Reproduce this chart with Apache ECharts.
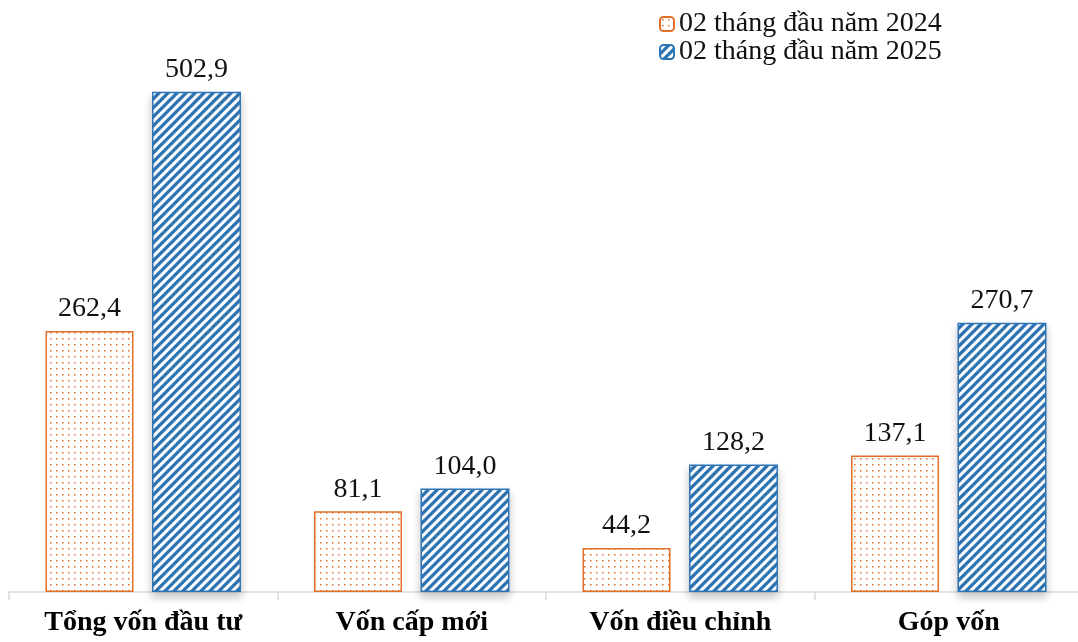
<!DOCTYPE html>
<html>
<head>
<meta charset="utf-8">
<script src="https://cdn.jsdelivr.net/npm/echarts@6/dist/echarts.min.js"></script>
<style>
  html, body {margin: 0; padding: 0; background: #fff;}
  #chart {width: 1078px; height: 642px;}
</style>
</head>
<body>
<div id="chart"></div>
<script>
const categories = ['Tổng vốn đầu tư', 'Vốn cấp mới', 'Vốn điều chỉnh', 'Góp vốn']
const seriesNames = ['02 tháng đầu năm 2024', '02 tháng đầu năm 2025']
const values2024 = [262.4, 81.1, 44.2, 137.1]
const values2025 = [502.9, 104.0, 128.2, 270.7]

const orange = '#e0702a'
const blue = '#2e75b6'

// dotted fill for 2024
const makeDots = () => {
  const c = document.createElement('canvas')
  c.width = 6
  c.height = 6
  const ctx = c.getContext('2d')
  ctx.fillStyle = '#fff'
  ctx.fillRect(0, 0, 6, 6)
  ctx.fillStyle = orange
  ctx.fillRect(2, 2, 1.5, 1.5)
  return c
}

// diagonal stripes for 2025
const makeStripes = () => {
  const s = 9
  const c = document.createElement('canvas')
  c.width = s
  c.height = s
  const ctx = c.getContext('2d')
  ctx.fillStyle = '#fff'
  ctx.fillRect(0, 0, s, s)
  ctx.strokeStyle = blue
  ctx.lineWidth = 3.3
  ctx.beginPath()
  for (let k = -1; k <= 1; k++) {
    ctx.moveTo(k * s - 1, s + 1)
    ctx.lineTo(k * s + s + 1, -1)
  }
  ctx.stroke()
  return c
}

const fmt = (v) => v.toFixed(1).replace('.', ',')
const serif = '"Liberation Serif", "DejaVu Serif", serif'

const chart = echarts.init(document.getElementById('chart'))
chart.setOption({
  animation: false,
  backgroundColor: '#fff',
  legend: {
    orient: 'vertical',
    left: 654,
    top: 5,
    itemWidth: 14,
    itemHeight: 14,
    itemGap: 0,
    textStyle: {fontFamily: serif, fontSize: 28, color: '#111'},
    data: seriesNames
  },
  grid: {left: 9, width: 1074, top: 7, bottom: 50, outerBoundsMode: 'none', containLabel: false},
  xAxis: {
    type: 'category',
    data: categories,
    axisLine: {lineStyle: {color: '#d9d9d9', width: 1.5}},
    axisTick: {show: true, length: 8, lineStyle: {color: '#d9d9d9', width: 1.5}},
    axisLabel: {
      fontFamily: serif, fontSize: 28, fontWeight: 'bold', color: '#000', margin: 17
    }
  },
  yAxis: {type: 'value', min: 0, max: 588, show: false, splitLine: {show: false}},
  series: [
    {
      name: seriesNames[0],
      type: 'bar',
      data: values2024,
      barWidth: 88,
      barGap: '21%',
      itemStyle: {
        color: {image: makeDots(), repeat: 'repeat'},
        borderColor: orange,
        borderWidth: 1.5
      },
      label: {
        show: true, position: 'top', distance: 8,
        fontFamily: serif, fontSize: 28, color: '#111',
        formatter: (p) => fmt(p.value)
      }
    },
    {
      name: seriesNames[1],
      type: 'bar',
      data: values2025,
      barWidth: 89,
      itemStyle: {
        color: {image: makeStripes(), repeat: 'repeat'},
        borderColor: blue,
        borderWidth: 1.5,
        shadowColor: 'rgba(0,0,0,0.22)',
        shadowBlur: 8,
        shadowOffsetY: 5
      },
      label: {
        show: true, position: 'top', distance: 8,
        fontFamily: serif, fontSize: 28, color: '#111',
        formatter: (p) => fmt(p.value)
      }
    }
  ]
})
</script>
</body>
</html>
